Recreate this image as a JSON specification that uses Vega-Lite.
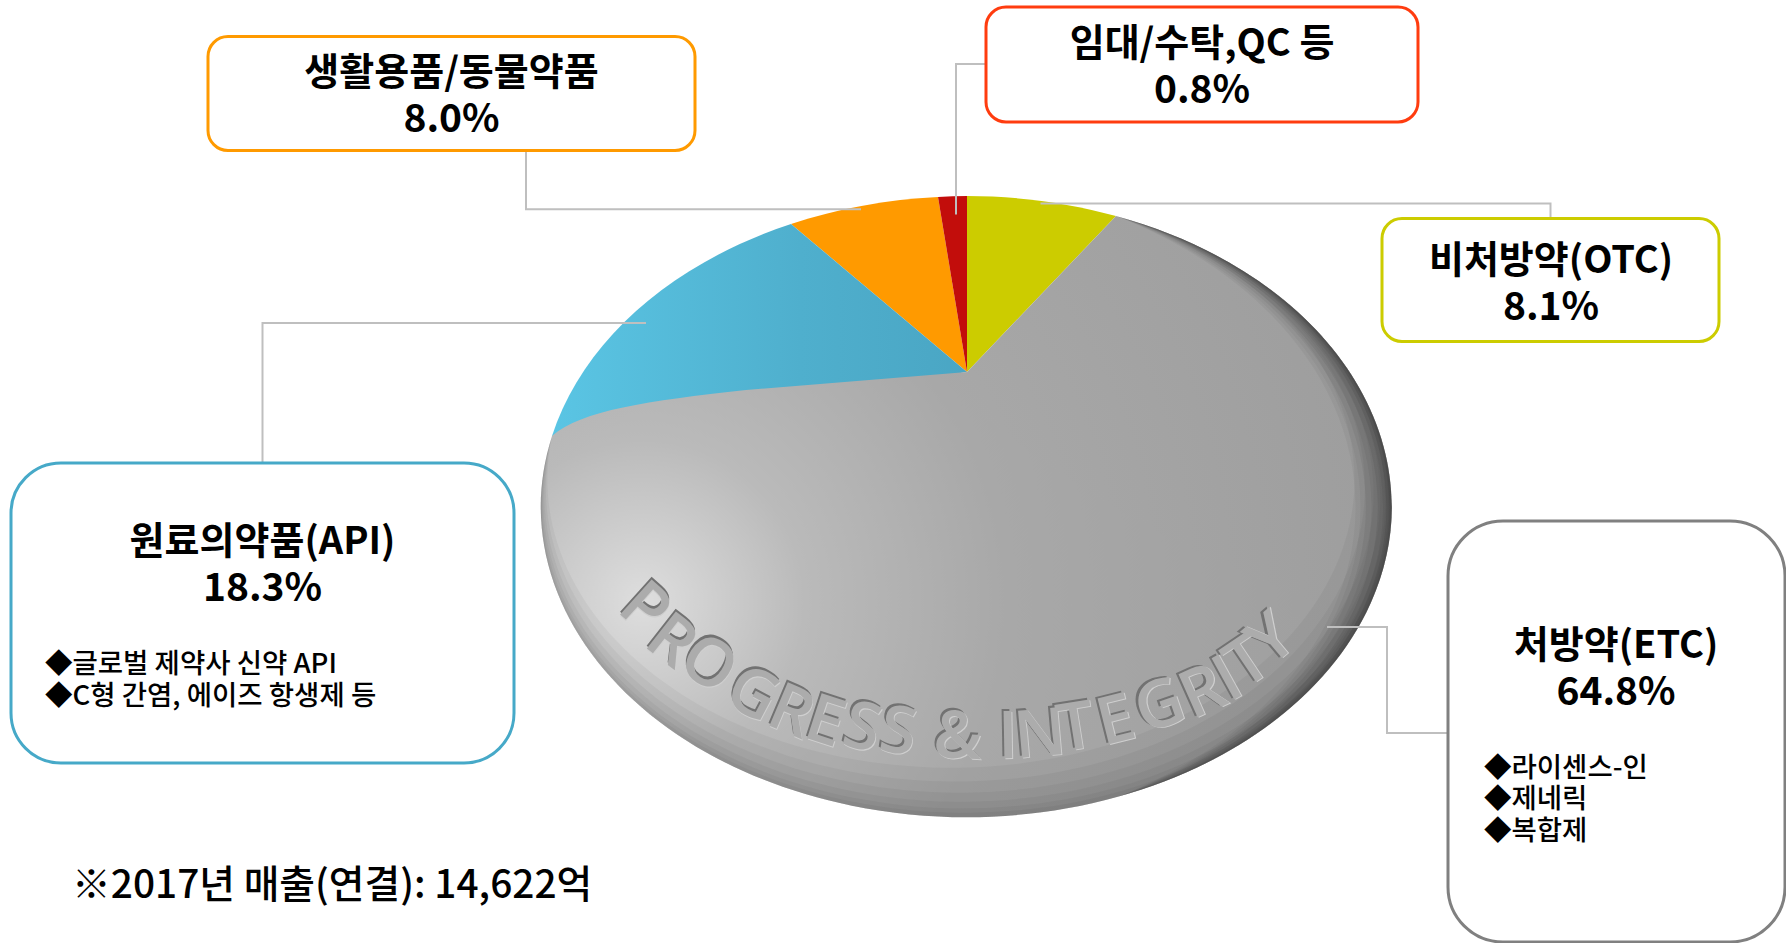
{
"$schema":"https://vega.github.io/schema/vega-lite/v6.json",
"width":1786,"height":943,"padding":0,"autosize":{"type":"none"},"background":"#ffffff",
"config":{"view":{"stroke":null}},
"datasets":{
"segments":[
{"segment":"비처방약(OTC)","share":8.1,"pct":"8.1%"},
{"segment":"처방약(ETC)","share":64.8,"pct":"64.8%"},
{"segment":"원료의약품(API)","share":18.3,"pct":"18.3%"},
{"segment":"생활용품/동물약품","share":8.0,"pct":"8.0%"},
{"segment":"임대/수탁,QC 등","share":0.8,"pct":"0.8%"}],
"bullets":[
{"rank":1,"segment":"원료의약품(API)","item":"◆글로벌 제약사 신약 API"},
{"rank":2,"segment":"원료의약품(API)","item":"◆C형 간염, 에이즈 항생제 등"},
{"rank":3,"segment":"처방약(ETC)","item":"◆라이센스-인"},
{"rank":4,"segment":"처방약(ETC)","item":"◆제네릭"},
{"rank":5,"segment":"처방약(ETC)","item":"◆복합제"}],
"note":[{"note":"※2017년 매출(연결): 14,622억","total":14622}],
"letters":[
{"i":0,"ch":"P"},{"i":1,"ch":"R"},{"i":2,"ch":"O"},{"i":3,"ch":"G"},{"i":4,"ch":"R"},{"i":5,"ch":"E"},{"i":6,"ch":"S"},{"i":7,"ch":"S"},{"i":8,"ch":"&"},{"i":9,"ch":"I"},{"i":10,"ch":"N"},{"i":11,"ch":"T"},{"i":12,"ch":"E"},{"i":13,"ch":"G"},{"i":14,"ch":"R"},{"i":15,"ch":"I"},{"i":16,"ch":"T"},{"i":17,"ch":"Y"}]
},
"resolve":{"scale":{"x":"independent","y":"independent","shape":"independent","color":"independent","stroke":"independent","angle":"independent"}},
"layer":[
{"data":{"name":"segments"},
 "encoding":{
  "x":{"field":"share","type":"quantitative","axis":null,"scale":{"domain":[0,100],"range":[967,967],"zero":false,"nice":false}},
  "y":{"field":"share","type":"quantitative","axis":null,"scale":{"domain":[0,100],"range":[372,372],"zero":false,"nice":false}},
  "shape":{"field":"segment","type":"nominal","legend":null,"scale":{"domain":["비처방약(OTC)","처방약(ETC)","원료의약품(API)","생활용품/동물약품","임대/수탁,QC 등"],"range":[
   "M0,0L0,-176A425.5,310.5,0,0,1,149,-156Z",
   "M0,0L149,-156A425.5,310.5,0,1,1,-415,64C-385,38,-320,29,-221,18L0,0Z",
   "M0,0L-415,64A425.5,310.5,0,0,1,-176,-148Z",
   "M0,0L-176,-148A425.5,310.5,0,0,1,-29,-175Z",
   "M0,0L-29,-175A425.5,310.5,0,0,1,0,-176Z"]}}
 },
 "layer":[
  {"transform":[{"filter":"datum.share===8.1||datum.share===8||datum.share===0.8"}],
   "mark":{"type":"point","filled":true,"size":4,"opacity":1,"strokeWidth":0},
   "encoding":{"color":{"field":"segment","type":"nominal","legend":null,"scale":{"domain":["비처방약(OTC)","생활용품/동물약품","임대/수탁,QC 등"],"range":["#cccc00","#ff9a00","#c20d0b"]}}}},
  {"transform":[{"filter":"datum.share===18.3"}],
   "mark":{"type":"point","filled":true,"size":4,"opacity":1,"strokeWidth":0,
    "fill":{"gradient":"linear","x1":0,"y1":0,"x2":1,"y2":0,"stops":[{"offset":0,"color":"#5ac5e4"},{"offset":0.6,"color":"#4fafcd"},{"offset":1,"color":"#4aa6c4"}]}}},
  {"transform":[{"filter":"datum.share===64.8"}],
   "mark":{"type":"point","filled":true,"size":4,"opacity":1,"strokeWidth":0,
    "fill":{"gradient":"radial","x1":0.12,"y1":0.6,"r1":0,"x2":0.12,"y2":0.6,"r2":0.95,"stops":[{"offset":0,"color":"#dedede"},{"offset":0.2,"color":"#bababa"},{"offset":0.45,"color":"#a8a8a8"},{"offset":1,"color":"#9c9c9c"}]}}}
 ]},
{"data":{"name":"segments"},
 "transform":[{"filter":"datum.share===64.8"}],
 "encoding":{
  "x":{"field":"share","type":"quantitative","axis":null,"scale":{"domain":[0,100],"range":[967,967],"zero":false,"nice":false}},
  "y":{"field":"share","type":"quantitative","axis":null,"scale":{"domain":[0,100],"range":[372,372],"zero":false,"nice":false}}},
 "layer":[
  {"mark":{"type":"point","filled":true,"size":4,"opacity":0.04,"fill":"#000000","strokeWidth":0,"shape":"M149,-156A425.5,310.5,0,1,1,-415,64A423.5,308.5,0,1,0,149,-156Z"}},
  {"mark":{"type":"point","filled":true,"size":4,"opacity":0.04,"fill":"#000000","strokeWidth":0,"shape":"M149,-156A425.5,310.5,0,1,1,-415,64A421.5,306.5,0,1,0,149,-156Z"}},
  {"mark":{"type":"point","filled":true,"size":4,"opacity":0.04,"fill":"#000000","strokeWidth":0,"shape":"M149,-156A425.5,310.5,0,1,1,-415,64A418.5,303.5,0,1,0,149,-156Z"}},
  {"mark":{"type":"point","filled":true,"size":4,"opacity":0.04,"fill":"#000000","strokeWidth":0,"shape":"M149,-156A425.5,310.5,0,1,1,-415,64A414.5,299.5,0,1,0,149,-156Z"}},
  {"mark":{"type":"point","filled":true,"size":4,"opacity":0.04,"fill":"#000000","strokeWidth":0,"shape":"M149,-156A425.5,310.5,0,1,1,-415,64A409.5,294.5,0,1,0,149,-156Z"}},
  {"mark":{"type":"point","filled":true,"size":4,"opacity":0.04,"fill":"#000000","strokeWidth":0,"shape":"M149,-156A425.5,310.5,0,1,1,-415,64A403.5,288.5,0,1,0,149,-156Z"}},
  {"mark":{"type":"point","filled":true,"size":4,"opacity":0.06,"fill":"#000000","strokeWidth":0,"shape":"M149,-156A425.5,310.5,0,0,1,150,425A426.8,311.4,0,0,0,149,-156Z"}},
  {"mark":{"type":"point","filled":true,"size":4,"opacity":0.06,"fill":"#000000","strokeWidth":0,"shape":"M149,-156A425.5,310.5,0,0,1,150,425A428.5,312.7,0,0,0,149,-156Z"}},
  {"mark":{"type":"point","filled":true,"size":4,"opacity":0.06,"fill":"#000000","strokeWidth":0,"shape":"M149,-156A425.5,310.5,0,0,1,150,425A430.6,314.2,0,0,0,149,-156Z"}},
  {"mark":{"type":"point","filled":true,"size":4,"opacity":0.06,"fill":"#000000","strokeWidth":0,"shape":"M149,-156A425.5,310.5,0,0,1,150,425A434,316.7,0,0,0,149,-156Z"}},
  {"mark":{"type":"point","filled":true,"size":4,"opacity":0.05,"fill":"#000000","strokeWidth":0,"shape":"M149,-156A425.5,310.5,0,0,1,150,425A438.3,319.8,0,0,0,149,-156Z"}},
  {"mark":{"type":"point","filled":true,"size":4,"opacity":0.05,"fill":"#000000","strokeWidth":0,"shape":"M149,-156A425.5,310.5,0,0,1,150,425A442.5,322.9,0,0,0,149,-156Z"}},
  {"mark":{"type":"point","filled":true,"size":4,"opacity":0.04,"fill":"#000000","strokeWidth":0,"shape":"M149,-156A425.5,310.5,0,0,1,150,425A446.8,326,0,0,0,149,-156Z"}},
  {"mark":{"type":"point","filled":true,"size":4,"opacity":0.04,"fill":"#000000","strokeWidth":0,"shape":"M149,-156A425.5,310.5,0,0,1,150,425A451,329.1,0,0,0,149,-156Z"}}
 ]},
{"data":{"name":"letters"},
 "encoding":{
  "x":{"field":"i","type":"quantitative","axis":null,"scale":{"domain":[0,1,2,3,4,5,6,7,8,9,10,11,12,13,14,15,16,17],"range":[644,671,708,752,791,825,862,898,958,1008,1040,1076,1116,1160,1203,1228,1248,1272],"zero":false,"nice":false}},
  "y":{"field":"i","type":"quantitative","axis":null,"scale":{"domain":[0,1,2,3,4,5,6,7,8,9,10,11,12,13,14,15,16,17],"range":[609,642,665,695,713,723,729,733,738,738,736,729,722,707,693,680,663,640],"zero":false,"nice":false}},
  "angle":{"field":"i","type":"quantitative","legend":null,"scale":{"domain":[0,1,2,3,4,5,6,7,8,9,10,11,12,13,14,15,16,17],"range":[42,38,33,28,23,18,14,9,3,359,355,351,346,341,336,331,326,320],"zero":false,"nice":false}},
  "text":{"field":"ch","type":"nominal"}},
 "layer":[
  {"mark":{"type":"text","font":"Open Sans","fontWeight":600,"fontSize":66,"baseline":"middle","align":"center","fill":"#727272","dx":-2,"dy":-2}},
  {"mark":{"type":"text","font":"Open Sans","fontWeight":600,"fontSize":66,"baseline":"middle","align":"center","fill":"#cfcfcf","dx":1,"dy":1}},
  {"mark":{"type":"text","font":"Open Sans","fontWeight":600,"fontSize":66,"baseline":"middle","align":"center","fill":"#acacac"}}
 ]},
{"data":{"name":"segments"},
 "encoding":{
  "x":{"field":"share","type":"quantitative","axis":null,"scale":{"domain":[0.8,8,8.1,18.3,64.8],"range":[1202,451.5,1550.5,262.5,1616.5],"zero":false,"nice":false}},
  "y":{"field":"share","type":"quantitative","axis":null,"scale":{"domain":[0.8,8,8.1,18.3,64.8],"range":[64.5,93.5,280,613,731.5],"zero":false,"nice":false}}},
 "resolve":{"scale":{"shape":"independent"}},
 "layer":[
  {"mark":{"type":"point","filled":false,"size":4,"opacity":1,"stroke":"#bfbfbf","strokeWidth":2,"strokeJoin":"miter"},
   "encoding":{"shape":{"field":"segment","type":"nominal","legend":null,"scale":{"domain":["비처방약(OTC)","처방약(ETC)","원료의약품(API)","생활용품/동물약품","임대/수탁,QC 등"],"range":[
    "M-510,-76.5H0V-61.5",
    "M-289.5,-104.5H-229.5V1.5H-168.5",
    "M0,-150V-290H383.5",
    "M74.5,57V115.7H409.5",
    "M-216,-0.5H-246V150"]}}}},
  {"mark":{"type":"point","filled":true,"size":4,"opacity":1,"fill":"#ffffff","strokeWidth":3},
   "encoding":{
    "stroke":{"field":"segment","type":"nominal","legend":null,"scale":{"domain":["비처방약(OTC)","처방약(ETC)","원료의약품(API)","생활용품/동물약품","임대/수탁,QC 등"],"range":["#cccc00","#808080","#46a9c8","#ff9a00","#ff3c0f"]}},
    "shape":{"field":"segment","type":"nominal","legend":null,"scale":{"domain":["비처방약(OTC)","처방약(ETC)","원료의약품(API)","생활용품/동물약품","임대/수탁,QC 등"],"range":[
     "M-148.5,-61.5H148.5A20,20,0,0,1,168.5,-41.5V41.5A20,20,0,0,1,148.5,61.5H-148.5A20,20,0,0,1,-168.5,41.5V-41.5A20,20,0,0,1,-148.5,-61.5Z",
     "M-113.5,-210.5H113.5A55,55,0,0,1,168.5,-155.5V155.5A55,55,0,0,1,113.5,210.5H-113.5A55,55,0,0,1,-168.5,155.5V-155.5A55,55,0,0,1,-113.5,-210.5Z",
     "M-201.5,-150H201.5A50,50,0,0,1,251.5,-100V100A50,50,0,0,1,201.5,150H-201.5A50,50,0,0,1,-251.5,100V-100A50,50,0,0,1,-201.5,-150Z",
     "M-223.5,-57H223.5A20,20,0,0,1,243.5,-37V37A20,20,0,0,1,223.5,57H-223.5A20,20,0,0,1,-243.5,37V-37A20,20,0,0,1,-223.5,-57Z",
     "M-196,-57.5H196A20,20,0,0,1,216,-37.5V37.5A20,20,0,0,1,196,57.5H-196A20,20,0,0,1,-216,37.5V-37.5A20,20,0,0,1,-196,-57.5Z"]}}}}
 ]},
{"data":{"name":"segments"},
 "encoding":{
  "x":{"field":"share","type":"quantitative","axis":null,"scale":{"domain":[0.8,8,8.1,18.3,64.8],"range":[1202,451.5,1551,262.5,1616],"zero":false,"nice":false}},
  "y":{"field":"share","type":"quantitative","axis":null,"scale":{"domain":[0.8,8,8.1,18.3,64.8],"range":[67.5,97,284.5,565.5,669.5],"zero":false,"nice":false}}},
 "layer":[
  {"mark":{"type":"text","font":"Noto Sans CJK KR","fontWeight":700,"fontSize":38,"baseline":"middle","align":"center","fill":"#000000","dy":-23},
   "encoding":{"text":{"field":"segment","type":"nominal"}}},
  {"mark":{"type":"text","font":"Noto Sans CJK KR","fontWeight":700,"fontSize":39,"baseline":"middle","align":"center","fill":"#000000","dy":23},
   "encoding":{"text":{"field":"pct","type":"nominal"}}}
 ]},
{"data":{"name":"bullets"},
 "mark":{"type":"text","font":"Noto Sans CJK KR","fontWeight":500,"fontSize":27.5,"baseline":"middle","align":"left","fill":"#000000"},
 "encoding":{
  "x":{"field":"rank","type":"quantitative","axis":null,"scale":{"domain":[1,2,3,4,5],"range":[45,45,1484,1484,1484],"zero":false,"nice":false}},
  "y":{"field":"rank","type":"quantitative","axis":null,"scale":{"domain":[1,2,3,4,5],"range":[665,697,769,800,832],"zero":false,"nice":false}},
  "text":{"field":"item","type":"nominal"}}},
{"data":{"name":"note"},
 "mark":{"type":"text","font":"Noto Sans CJK KR","fontWeight":500,"fontSize":38.8,"baseline":"middle","align":"left","fill":"#000000"},
 "encoding":{
  "x":{"field":"total","type":"quantitative","axis":null,"scale":{"domain":[0,20000],"range":[72,72],"zero":false,"nice":false}},
  "y":{"field":"total","type":"quantitative","axis":null,"scale":{"domain":[0,20000],"range":[886,886],"zero":false,"nice":false}},
  "text":{"field":"note","type":"nominal"}}}
]}
